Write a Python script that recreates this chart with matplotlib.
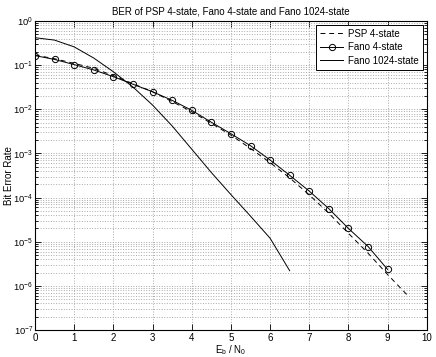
import matplotlib
matplotlib.use("Agg")
import matplotlib.pyplot as plt
import matplotlib.ticker as mtick
import numpy as np

plt.rcParams['font.family'] = ['Liberation Sans', 'DejaVu Sans']
plt.rcParams['mathtext.fontset'] = 'custom'
plt.rcParams['mathtext.rm'] = 'Liberation Sans'
plt.rcParams['mathtext.it'] = 'Liberation Sans'

# Eb/N0 grid (dB)
snr_psp = [0, 0.5, 1, 1.5, 2, 2.5, 3, 3.5, 4, 4.5, 5, 5.5, 6, 6.5, 7, 7.5, 8, 8.5, 9, 9.5]
ber_psp = [0.17, 0.14, 0.11, 0.085, 0.058, 0.038, 0.025, 0.015, 0.0088, 0.0048,
           0.0026, 0.0013, 6.2e-4, 2.8e-4, 1.15e-4, 4.4e-5, 1.55e-5, 5.5e-6, 1.8e-6, 6.2e-7]

snr_fano4 = [0, 0.5, 1, 1.5, 2, 2.5, 3, 3.5, 4, 4.5, 5, 5.5, 6, 6.5, 7, 7.5, 8, 8.5, 9]
ber_fano4 = [0.165, 0.135, 0.103, 0.078, 0.055, 0.037, 0.025, 0.016, 0.0095, 0.0051,
             0.0028, 0.0015, 7.1e-4, 3.2e-4, 1.4e-4, 5.6e-5, 2.0e-5, 7.8e-6, 2.35e-6]

snr_fano1024 = [0, 0.5, 1, 1.5, 2, 2.5, 3, 3.5, 4, 4.5, 5, 5.5, 6, 6.5]
ber_fano1024 = [0.42, 0.37, 0.26, 0.145, 0.071, 0.032, 0.0125, 0.0042, 1.25e-3,
                3.7e-4, 1.17e-4, 3.8e-5, 1.2e-5, 2.2e-6]

fs = 7
fig = plt.figure(figsize=(4.36, 3.57), dpi=100)
ax = fig.add_axes([0.0803, 0.0756, 0.8987, 0.8654])

ax.semilogy(snr_psp, ber_psp, '--', color='k', lw=0.7, dashes=(5, 4), label='PSP 4-state')
ax.semilogy(snr_fano4, ber_fano4, '-o', color='k', lw=0.7, markersize=4.5,
            markerfacecolor='none', markeredgewidth=0.7, label='Fano 4-state')
ax.semilogy(snr_fano1024, ber_fano1024, '-', color='k', lw=0.7, label='Fano 1024-state')

ax.set_xlim(0, 10)
ax.set_ylim(1e-7, 1)
ax.set_xticks(np.arange(0, 11, 1))
ax.yaxis.set_major_locator(mtick.LogLocator(base=10, numticks=10))
ax.yaxis.set_minor_locator(mtick.LogLocator(base=10, subs=np.arange(2, 10), numticks=20))
ax.yaxis.set_minor_formatter(mtick.NullFormatter())

ax.grid(True, which='major', axis='both', linestyle=':', color='#aaaaaa', lw=0.7)
ax.grid(True, which='minor', axis='y', linestyle=':', color='#aaaaaa', lw=0.7)

ax.tick_params(which='both', direction='in', top=True, right=True, width=0.6, pad=2)
ax.tick_params(axis='x', labelsize=fs)
ax.tick_params(axis='y', labelsize=6.7, pad=1.5)
ax.tick_params(which='major', length=4)
ax.tick_params(which='minor', length=2)
for s in ax.spines.values():
    s.set_linewidth(0.8)

ax.set_title('BER of PSP 4-state, Fano 4-state and Fano 1024-state', fontsize=fs, pad=5)
ax.set_xlabel(r'E$_\mathrm{b}$ / N$_\mathrm{0}$', fontsize=fs, labelpad=0)
ax.set_ylabel('Bit Error Rate', fontsize=fs)
ax.yaxis.set_label_coords(-0.054, 0.5)

leg = ax.legend(loc='upper right', fontsize=fs, fancybox=False, framealpha=1,
                edgecolor='k', handlelength=2.4, handletextpad=0.5, borderpad=0.4,
                labelspacing=0.35, borderaxespad=0.4)
leg.get_frame().set_linewidth(0.7)

fig.savefig('out.png', dpi=100)
